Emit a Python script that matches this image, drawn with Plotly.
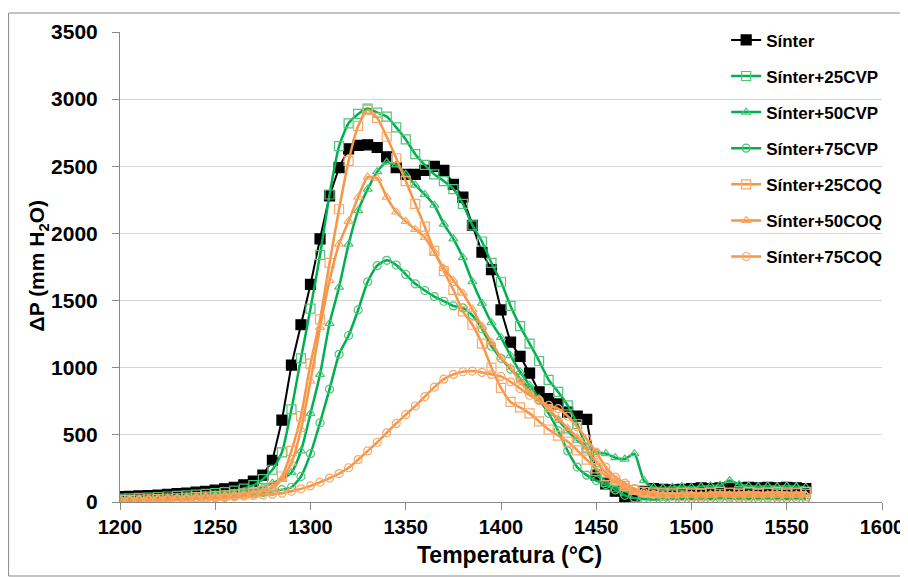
import plotly.graph_objects as go

# Temperature (°C)
temps = [1200, 1205, 1210, 1215, 1220, 1225, 1230, 1235, 1240, 1245,
         1250, 1255, 1260, 1265, 1270, 1275, 1280, 1285, 1290, 1295,
         1300, 1305, 1310, 1315, 1320, 1325, 1330, 1335, 1340, 1345,
         1350, 1355, 1360, 1365, 1370, 1375, 1380, 1385, 1390, 1395,
         1400, 1405, 1410, 1415, 1420, 1425, 1430, 1435, 1440, 1445,
         1450, 1455, 1460, 1465, 1470, 1475, 1480, 1485, 1490, 1495,
         1500, 1505, 1510, 1515, 1520, 1525, 1530, 1535, 1540, 1545,
         1550, 1555, 1560]

sinter = [40, 42, 45, 48, 52, 57, 62, 67, 73, 80,
          88, 98, 110, 128, 155, 200, 310,
          610, 1020, 1320, 1620,
          1960, 2280, 2490, 2630, 2655, 2660,
          2640, 2570, 2490, 2440,
          2440, 2470, 2500, 2470, 2365, 2270,
          2060, 1860, 1730, 1430,
          1190, 1085, 960, 820, 770, 730,
          670, 640, 615, 200,
          135, 80, 40, 45, 80, 100,
          95, 90, 95, 100,
          105, 100, 105, 110, 105, 110,
          105, 110, 105, 110, 105, 100]

s25cvp = [25, 27, 30, 33, 37, 41, 45, 50, 55, 60,
          66, 73, 85, 100, 125, 170, 240,
          370, 690, 1070, 1440,
          1840, 2290, 2650, 2820, 2890, 2930,
          2900, 2870, 2790, 2700,
          2590, 2510, 2440, 2390, 2330, 2220,
          2060, 1940, 1780, 1640,
          1460, 1310, 1180, 1050, 910, 820,
          720, 580, 400, 230,
          150, 110, 80, 60, 50, 45,
          50, 55, 55, 60,
          60, 65, 60, 65, 60, 65,
          60, 65, 60, 60, 65, 60]

s50cvp = [20, 22, 24, 26, 29, 32, 35, 39, 43, 48,
          53, 58, 65, 75, 90, 110, 140,
          170, 220, 380, 660,
          950, 1330, 1600, 1920, 2170, 2330,
          2460, 2530, 2510, 2440,
          2360, 2290, 2210, 2070, 1960, 1820,
          1640, 1480, 1335, 1225,
          1090, 970, 870, 770, 690, 610,
          530, 460, 410, 370,
          360, 330, 320, 360, 160, 110,
          105, 110, 115, 110,
          115, 120, 125, 160, 130, 120,
          115, 120, 115, 120, 115, 110]

s75cvp = [15, 16, 17, 18, 20, 22, 24, 27, 30, 33,
          37, 41, 46, 52, 60, 70, 80,
          92, 110, 190, 360,
          590, 840, 1100, 1240, 1430, 1640,
          1760, 1800, 1765, 1695,
          1625, 1575, 1530, 1495, 1460, 1445,
          1390, 1290, 1160, 1070,
          990, 920, 840, 760, 660, 530,
          380, 260, 200, 160,
          130, 90, 50, 30, 25, 22,
          22, 22, 24, 25,
          26, 25, 27, 28, 26, 25,
          26, 27, 26, 25, 26, 25]

s25coq = [15, 16, 18, 20, 22, 25, 28, 32, 36, 40,
          45, 50, 57, 63, 70, 85, 110,
          190, 380, 640, 1030,
          1360, 1780, 2180, 2540, 2800, 2920,
          2860, 2720, 2560, 2390,
          2220, 2050, 1870, 1720, 1580, 1420,
          1320, 1180, 1000, 850,
          745, 705, 660, 600, 540, 495,
          450, 385, 315, 250,
          195, 160, 120, 90, 75, 70,
          65, 65, 70, 70,
          65, 70, 75, 70, 70, 75,
          70, 70, 75, 70, 70, 75]

s50coq = [12, 13, 15, 17, 19, 21, 24, 27, 30, 34,
          38, 43, 49, 56, 65, 80, 105,
          170, 290, 540, 900,
          1300, 1650, 1920, 2090, 2270, 2420,
          2410, 2270, 2160, 2090,
          2030, 1970, 1860, 1740, 1650, 1555,
          1435, 1310, 1190, 1075,
          1000, 900, 820, 760, 690, 620,
          550, 480, 390, 300,
          220, 150, 100, 75, 60, 55,
          50, 50, 52, 55,
          55, 58, 56, 55, 58, 56,
          55, 56, 58, 55, 56, 55]

s75coq = [10, 11, 12, 13, 15, 17, 19, 21, 24, 27,
          30, 34, 38, 43, 48, 53, 58,
          66, 80, 98, 120,
          147, 178, 212, 255, 315, 380,
          445, 515, 585, 650,
          715, 785, 855, 915, 950, 970,
          975, 965, 950, 935,
          895, 845, 795, 755, 720, 695,
          640, 560, 470, 370,
          260, 185, 140, 100, 70, 55,
          45, 42, 40, 40,
          38, 40, 42, 40, 38, 40,
          40, 42, 40, 40, 42, 40]

x_ticks = [1200, 1250, 1300, 1350, 1400, 1450, 1500, 1550, 1600]
y_ticks = [0, 500, 1000, 1500, 2000, 2500, 3000, 3500]

GREEN = "#00B050"
GREEN_M = "#4cc57a"
ORANGE = "#F79646"
ORANGE_M = "#f8a86a"

series = [
    ("Sínter", sinter, "#000000", "#000000", "square", "linear", 2, 10),
    ("Sínter+25CVP", s25cvp, GREEN, GREEN_M, "square-open", "spline", 2.5, 9),
    ("Sínter+50CVP", s50cvp, GREEN, GREEN_M, "triangle-up-open", "spline", 2.5, 8),
    ("Sínter+75CVP", s75cvp, GREEN, GREEN_M, "circle-open", "spline", 2.5, 8),
    ("Sínter+25COQ", s25coq, ORANGE, ORANGE_M, "square-open", "spline", 2.5, 9),
    ("Sínter+50COQ", s50coq, ORANGE, ORANGE_M, "triangle-up-open", "spline", 2.5, 8),
    ("Sínter+75COQ", s75coq, ORANGE, ORANGE_M, "circle-open", "spline", 2.5, 8),
]

FONT = "Liberation Sans, Arial, sans-serif"

# figure-pixel geometry (page is offset by the 8px body margin)
L, R, T, B = 112, 30, 24, 83
PW, PH = 908 - L - R, 577 - T - B

fig = go.Figure()
for i, (name, vals, lc, mc, sym, shape, lw, ms) in enumerate(series):
    fig.add_trace(go.Scatter(
        x=temps, y=vals, name=name, mode="lines+markers",
        line=dict(color=lc, width=lw, shape=shape, smoothing=0.6),
        marker=dict(symbol=sym, size=ms, color=mc,
                    line=dict(color=mc, width=1.2)),
        legendgroup="g%d" % i,
    ))

fig.update_layout(
    width=908, height=577,
    margin=dict(l=L, r=R, t=T, b=B),
    paper_bgcolor="white", plot_bgcolor="white",
    font=dict(family=FONT, color="black"),
    showlegend=True,
    legend=dict(x=0.7955, y=1.0205, xanchor="left", yanchor="top",
                font=dict(family=FONT, size=17, weight="bold", color="black"),
                tracegroupgap=11, bgcolor="rgba(0,0,0,0)", itemwidth=30),
    xaxis=dict(range=[1200, 1600], tickvals=x_ticks, showgrid=False,
               showline=True, linecolor="#898989", linewidth=1,
               ticks="outside", ticklen=7, tickcolor="#898989",
               tickfont=dict(family=FONT, size=20, weight="bold"),
               zeroline=False),
    yaxis=dict(range=[0, 3500], tickvals=y_ticks, showgrid=True,
               gridcolor="#d4d4d4", gridwidth=1,
               showline=True, linecolor="#898989", linewidth=1,
               ticks="outside", ticklen=7, tickcolor="#898989",
               ticklabelstandoff=10,
               tickfont=dict(family=FONT, size=21, weight="bold"),
               zeroline=False),
)

# axis titles placed to match the reference positions
fig.add_annotation(text="Temperatura (°C)", xref="paper", yref="paper",
                   x=(512 - 8 - L) / PW, y=(PH + T - (555 - 8)) / PH,
                   xanchor="center", yanchor="middle", showarrow=False,
                   font=dict(family=FONT, size=23, weight="bold", color="black"))
fig.add_annotation(text="ΔP (mm H<sub>2</sub>O)", xref="paper", yref="paper",
                   x=(38 - 8 - L) / PW, y=(PH + T - (266 - 8)) / PH,
                   xanchor="center", yanchor="middle", showarrow=False,
                   textangle=-90,
                   font=dict(family=FONT, size=21, weight="bold", color="black"))

# outer chart frame
fig.add_shape(type="rect", xref="paper", yref="paper",
              x0=(0 - L) / PW, x1=(897 - L) / PW,
              y0=(PH + T - 568) / PH, y1=(PH + T - 5) / PH,
              line=dict(color="#898989", width=1), fillcolor="rgba(0,0,0,0)",
              layer="below")

fig.write_html("out.html")
